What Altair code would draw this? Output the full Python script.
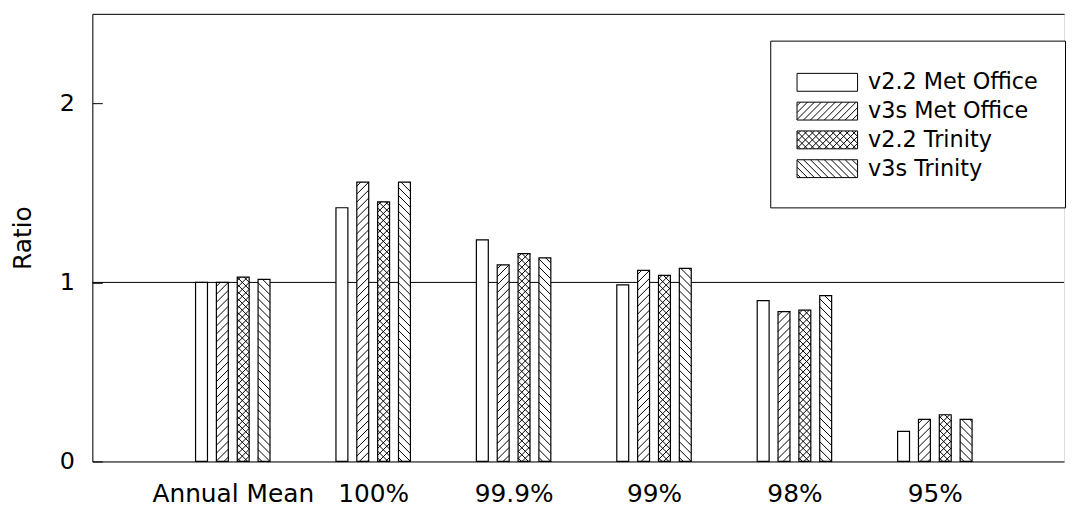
import altair as alt
import pandas as pd

# ---------------- data ----------------
categories = ["Annual Mean", "100%", "99.9%", "99%", "98%", "95%"]
series = ["v2.2 Met Office", "v3s Met Office", "v2.2 Trinity", "v3s Trinity"]
v22_met = [1.00, 1.417, 1.238, 0.986, 0.898, 0.168]
v3s_met = [1.00, 1.56, 1.098, 1.067, 0.837, 0.235]
v22_tri = [1.03, 1.45, 1.161, 1.039, 0.845, 0.261]
v3s_tri = [1.017, 1.56, 1.137, 1.078, 0.926, 0.235]
reference = [1.0]
y_ticks = [0, 1, 2]
hatch_kind = ["none", "/", "x", "\\"]

values = [v22_met, v3s_met, v22_tri, v3s_tri]

# ---------------- layout / style ----------------
FONT = "DejaVu Sans"
W, H = 979, 451
X_DOMAIN = [-1, 5.92]
Y_DOMAIN = [0, 2.5]
kx = W / (X_DOMAIN[1] - X_DOMAIN[0])
ky = H / (Y_DOMAIN[1] - Y_DOMAIN[0])
BAR_PX = 12
PITCH_PX = 21
HATCH_PX = {"/": 8, "\\": 8, "x": 7, "none": 8}

SYM_W, SYM_H = 61.0, 18.0     # legend swatch, px
SYM_UNIT = 14.5               # px per symbol-path unit (sqrt(size)/2)


def hatch_lines(wp, hp, kind, period):
    segs = []
    dirs = []
    if kind in ("/", "x"):
        dirs.append(1)
    if kind in ("\\", "x"):
        dirs.append(-1)
    for d in dirs:
        if d == 1:  # '/' : x + y = k (screen coords, y down)
            k = period * 0.5
            while k < wp + hp:
                xa = max(0.0, k - hp)
                xb = min(wp, k)
                if xb > xa:
                    segs.append((xa, k - xa, xb, k - xb))
                k += period
        else:  # '\' : x - y = k
            k = -hp + period * 0.5
            while k < wp:
                xa = max(0.0, k)
                xb = min(wp, k + hp)
                if xb > xa:
                    segs.append((xa, xa - k, xb, xb - k))
                k += period
    return segs


def legend_path(kind):
    def u(x, y):
        return f"{(x - SYM_W / 2) / SYM_UNIT:.3f},{(y - SYM_H / 2) / SYM_UNIT:.3f}"

    p = f"M{u(0, 0)}L{u(SYM_W, 0)}L{u(SYM_W, SYM_H)}L{u(0, SYM_H)}Z"
    for (xa, ya, xb, yb) in hatch_lines(SYM_W, SYM_H, kind, 7):
        p += f"M{u(xa, ya)}L{u(xb, yb)}"
    return p


bar_rows = []
hatch_rows = []
for g, cat in enumerate(categories):
    for si, name in enumerate(series):
        v = values[si][g]
        center = g + (si - 1.5) * PITCH_PX / kx
        x0 = center - BAR_PX / 2 / kx
        x1 = center + BAR_PX / 2 / kx
        bar_rows.append({"category": cat, "series": name, "value": v,
                         "x0": x0, "x1": x1, "center": center})
        kind = hatch_kind[si]
        if kind != "none":
            for (xa, ya, xb, yb) in hatch_lines(BAR_PX, v * ky, kind, HATCH_PX[kind]):
                hatch_rows.append({"hx": x0 + xa / kx, "hx2": x0 + xb / kx,
                                   "hy": v - ya / ky, "hy2": v - yb / ky})

bars_df = pd.DataFrame(bar_rows)
hatch_df = pd.DataFrame(hatch_rows)
ref_df = pd.DataFrame({"ref": reference})

xscale = alt.Scale(domain=X_DOMAIN, nice=False, zero=False)
yscale = alt.Scale(domain=Y_DOMAIN, nice=False)

label_expr = "[" + ",".join(f"'{c}'" for c in categories) + "][round(datum.value)]"

x_axis_bottom = alt.Axis(values=list(range(len(categories))), labelExpr=label_expr,
                         ticks=False, grid=False, domain=True, domainColor="black",
                         domainWidth=1, labelFontSize=25, labelFont=FONT,
                         labelColor="black", labelPadding=20, title=None,
                         labelOverlap=False)
x_axis_top = alt.Axis(orient="top", labels=False, ticks=False, grid=False,
                      domain=True, domainColor="black", domainWidth=1, title=None)
y_axis = alt.Axis(values=y_ticks, ticks=False, grid=True, gridDash=[10, 3000],
                  gridColor="black", gridOpacity=1, gridWidth=1, domain=True,
                  domainColor="black", domainWidth=1, labelFontSize=24,
                  labelFont=FONT, labelColor="black", labelPadding=18, format="d",
                  title="Ratio", titleFontSize=25, titleFont=FONT,
                  titleFontWeight="normal", titleColor="black", titlePadding=24)

sym_size = (2 * SYM_UNIT) ** 2
entry = 2 * SYM_UNIT + 1
shape_scale = alt.Scale(domain=series, range=[legend_path(k) for k in hatch_kind])
legend = alt.Legend(title=None, orient="none", legendX=683, legendY=27,
                    direction="vertical", padding=27, strokeColor="black",
                    fillColor="white", labelFont=FONT, labelFontSize=22.5,
                    labelColor="black",
                    symbolOffset=SYM_W / 2 - entry / 2,
                    labelOffset=26,
                    symbolSize=sym_size, symbolStrokeWidth=1,
                    symbolStrokeColor="black", symbolFillColor="white",
                    symbolOpacity=1, rowPadding=2, labelLimit=400, cornerRadius=0)

rule = alt.Chart(ref_df).mark_rule(color="black", strokeWidth=1).encode(
    y=alt.Y("ref:Q", scale=yscale, axis=y_axis)
)

bars = alt.Chart(bars_df).mark_bar(fill="white", stroke="black", strokeWidth=1.2).encode(
    x=alt.X("x0:Q", scale=xscale, axis=x_axis_bottom),
    x2="x1:Q",
    y=alt.Y("value:Q", scale=yscale, axis=y_axis),
    y2=alt.datum(0),
)

hatch = alt.Chart(hatch_df).mark_rule(color="black", strokeWidth=1).encode(
    x=alt.X("hx:Q", scale=xscale, axis=x_axis_top),
    x2="hx2:Q",
    y=alt.Y("hy:Q", scale=yscale, axis=y_axis),
    y2="hy2:Q",
)

# legend carrier: no rows are drawn, the legend comes from the explicit shape domain
points = alt.Chart(bars_df).transform_filter("false").mark_point(
    size=sym_size, color="black"
).encode(
    x=alt.X("center:Q", scale=xscale, axis=None),
    y=alt.Y("value:Q", scale=yscale, axis=y_axis),
    shape=alt.Shape("series:N", scale=shape_scale, legend=legend),
)

chart = alt.layer(rule, bars, hatch, points).resolve_axis(x="independent").properties(
    width=W, height=H,
    padding={"left": 85, "top": 4, "right": 2, "bottom": 44},
    autosize=alt.AutoSizeParams(type="none"),
).configure_view(stroke=None).configure(font=FONT)

chart.save("out.html", embed_options={"renderer": "svg", "actions": False})
